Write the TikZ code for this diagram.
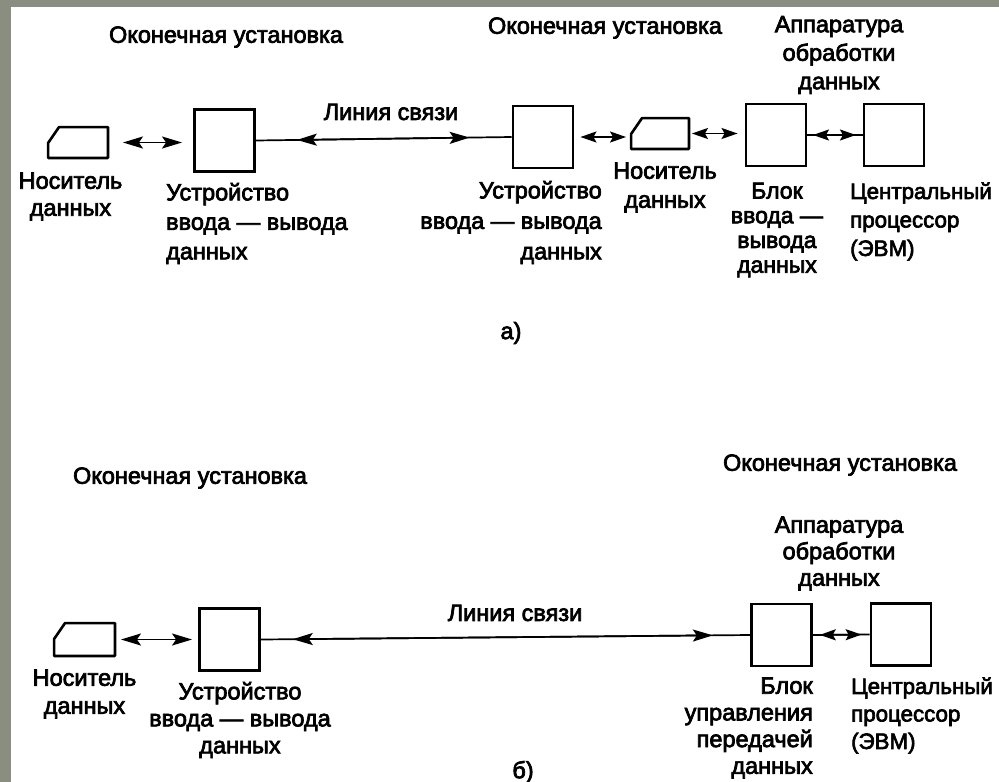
\documentclass[tikz,border=0pt]{standalone}
\usepackage{fontspec}
\setmainfont{Liberation Sans}[RawFeature={embolden=3}]
\usetikzlibrary{arrows.meta,calc}
\definecolor{framegray}{RGB}{138,142,128}
\begin{document}
\begin{tikzpicture}[x=1pt,y=-1pt,
  box/.style={draw, line width=2.9pt, minimum width=60pt, minimum height=62pt, inner sep=0pt},
  carrier/.style={minimum width=59.5pt, minimum height=30.5pt, inner sep=0pt},
  cline/.style={line width=2.6pt, line join=round},
  lbl/.style={inner sep=0pt, font=\fontsize{23.5}{29}\selectfont},
  link/.style={line width=1.7pt},
  dbl/.style={line width=1.7pt, {Stealth[length=20pt,width=12pt,inset=4pt]}-{Stealth[length=20pt,width=12pt,inset=4pt]}},
  dbls/.style={line width=1.7pt, {Stealth[length=16pt,width=11pt,inset=3pt]}-{Stealth[length=16pt,width=11pt,inset=3pt]}},
]
\useasboundingbox (0,0) rectangle (999,782);
\fill[framegray] (0,0) rectangle (999,782);
\fill[white] (11,7) rectangle (999,782);

% ---------- a) ----------
\node[carrier] (c1) at (78,142.5) {};
\node[box] (b1) at (224.5,140.5) {};
\node[box] (b2) at (543,137) {};
\node[carrier, minimum width=57.5pt] (c2) at (660,133.5) {};
\node[box] (b3) at (776,135) {};
\node[box] (b4) at (894,135) {};

\foreach \c in {c1,c2}{
  \draw[cline] ([xshift=11pt]\c.north west) -- (\c.north east) -- (\c.south east)
    -- (\c.south west) -- ([yshift=-16pt]\c.north west) -- cycle;
}

\draw[dbl, shorten <=15pt, shorten >=11pt] (c1.east) -- (c1.east -| b1.west);
\draw[link] (b1.east) -- (b2.west);
\draw[dbl] ($(b1.east)!0.16!(b2.west)$) -- ($(b1.east)!0.836!(b2.west)$);
\draw[dbls, shorten <=6pt, shorten >=5pt] (b2.east) -- (b2.east -| c2.west);
\draw[dbls, shorten <=3pt, shorten >=7pt] (c2.east) -- (c2.east -| b3.west);
\draw[link] (b3.east) -- (b4.west);
\draw[dbls] ($(b3.east)!0.1!(b4.west)$) -- ($(b3.east)!0.88!(b4.west)$);

\node[lbl] (t1) at (226,37) {Оконечная установка};
\node[lbl] (t2) at (605,28) {Оконечная установка};
\node[lbl, align=center, font=\fontsize{23.5}{28.5}\selectfont] (app1) at (839,55) {Аппаратура\\обработки\\данных};
\node[lbl] (l1) at (391,112) {Линия связи};
\node[lbl, align=center, font=\fontsize{23.5}{27}\selectfont] (lc1) at (70.5,196.5) {Носитель\\данных};
\node[lbl, align=left, anchor=west, font=\fontsize{23.5}{29.5}\selectfont] (ld1) at (166,223.5) {Устройство\\ввода — вывода\\данных};
\node[lbl, align=right, anchor=east, font=\fontsize{23.5}{30.5}\selectfont] (ld2) at (602,222.5) {Устройство\\ввода — вывода\\данных};
\node[lbl, align=center, font=\fontsize{23.5}{29}\selectfont] (lc2) at (665,187.5) {Носитель\\данных};
\node[lbl, align=center, font=\fontsize{23}{24.7}\selectfont] (lb3) at (777,230) {Блок\\ввода —\\вывода\\данных};
\node[lbl, align=left, anchor=west, font=\fontsize{22.3}{28.5}\selectfont] (lp1) at (850,221.5) {Центральный\\процессор\\(ЭВМ)};
\node[lbl] (pa) at (511,333) {а)};

% ---------- b) ----------
\node[carrier, minimum width=60.5pt, minimum height=32.5pt] (c3) at (84.5,639.5) {};
\node[box] (b5) at (229.5,639.5) {};
\node[box] (b6) at (781.5,635) {};
\node[box] (b7) at (901,634.5) {};

\draw[cline] ([xshift=11pt]c3.north west) -- (c3.north east) -- (c3.south east)
    -- (c3.south west) -- ([yshift=-16pt]c3.north west) -- cycle;

\draw[dbl, shorten <=6pt, shorten >=6pt] (c3.east) -- (c3.east -| b5.west);
\draw[link] (b5.east) -- (b6.west);
\draw[dbl] ($(b5.east)!0.065!(b6.west)$) -- ($(b5.east)!0.924!(b6.west)$);
\draw[link] (b6.east) -- (b7.west);
\draw[dbls] ($(b6.east)!0.12!(b7.west)$) -- ($(b6.east)!0.86!(b7.west)$);

\node[lbl] (t3) at (190,478) {Оконечная установка};
\node[lbl] (t4) at (840,465) {Оконечная установка};
\node[lbl, align=center, font=\fontsize{23.5}{26.5}\selectfont] (app2) at (839,553.5) {Аппаратура\\обработки\\данных};
\node[lbl] (l2) at (515,613) {Линия связи};
\node[lbl, align=center, font=\fontsize{23.5}{28}\selectfont] (lc3) at (84.5,694) {Носитель\\данных};
\node[lbl, align=center, font=\fontsize{23.5}{27}\selectfont] (ld3) at (240,720) {Устройство\\ввода — вывода\\данных};
\node[lbl, align=right, anchor=east, font=\fontsize{23.5}{26.7}\selectfont] (lb6) at (813,728) {Блок\\управления\\передачей\\данных};
\node[lbl, align=left, anchor=west, font=\fontsize{22.3}{27.5}\selectfont] (lp2) at (851,715.5) {Центральный\\процессор\\(ЭВМ)};
\node[lbl] (pb) at (523,772) {б)};
\end{tikzpicture}
\end{document}
